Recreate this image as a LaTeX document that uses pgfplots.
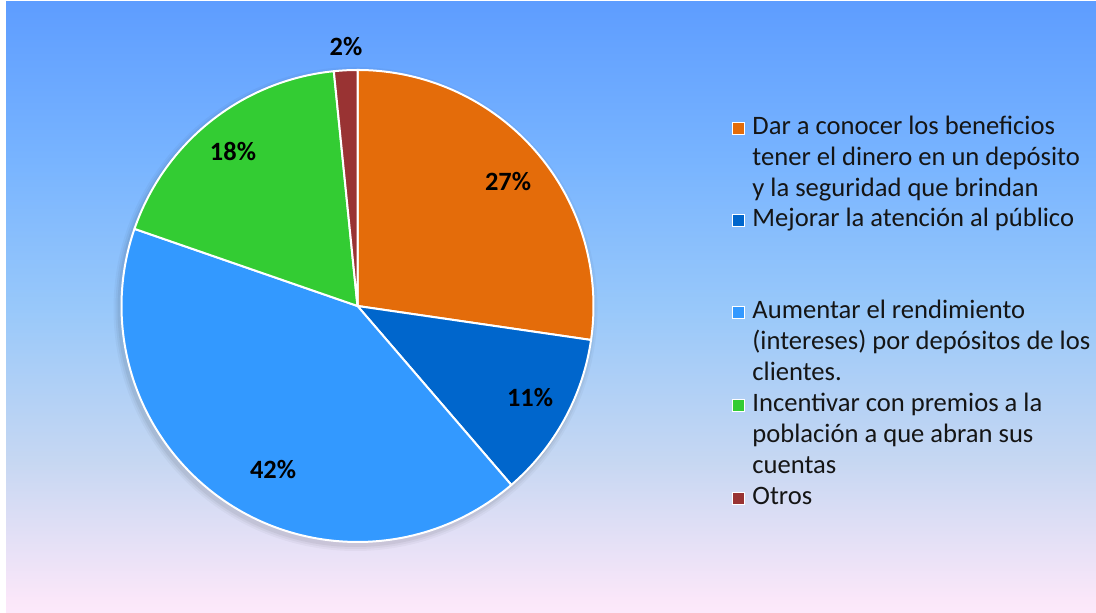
\documentclass[border=0pt]{standalone}
\usepackage{pgfplots}
\pgfplotsset{compat=1.18}
\usepackage{pgfplotstable}
\usepackage{fontspec}
\setmainfont{Carlito}
\definecolor{cOrange}{HTML}{E46C0A}
\definecolor{cDarkBlue}{HTML}{0066CC}
\definecolor{cLightBlue}{HTML}{3399FF}
\definecolor{cGreen}{HTML}{33CC33}
\definecolor{cRed}{HTML}{993333}
\definecolor{bg0}{HTML}{FCE9FA}
\definecolor{bg1}{HTML}{FBE7F9}
\definecolor{bg2}{HTML}{C6D7F2}
\definecolor{bg3}{HTML}{98C8FA}
\definecolor{bg4}{HTML}{78B4FF}
\definecolor{bg5}{HTML}{5E9DFF}
\definecolor{txt}{HTML}{151515}
\pgfdeclareverticalshading{bgshade}{100bp}{color(0bp)=(bg0); color(25bp)=(bg0); color(26bp)=(bg1); color(37.5bp)=(bg2); color(50bp)=(bg3); color(62bp)=(bg4); color(75bp)=(bg5); color(100bp)=(bg5)}

% slice values (percent), clockwise from 12 o'clock
\pgfplotstableread{
value color
27.3 cOrange
11.4 cDarkBlue
41.6 cLightBlue
18.1 cGreen
1.6 cRed
}\piedata

\begin{document}
\begin{tikzpicture}
\begin{axis}[
  name=pie,
  x=0.5pt, y=0.5pt,
  xmin=0, xmax=1096, ymin=0, ymax=613,
  hide axis, clip=false,
]
% background
\fill[shading=bgshade] (axis cs:6,0) rectangle (axis cs:1096,611);
\pgfplotsextra{
  \def\cx{357.5}\def\cy{307}\def\R{236}
  % soft shadow
  \foreach \k/\op in {6/0.03,4/0.04,2/0.05}{
    \fill[black, opacity=\op] (axis cs:{\cx-2},{\cy-3}) circle[radius={(236+\k)*0.5pt}];
  }
  \gdef\acur{90}
  \pgfplotsforeachungrouped \i in {0,...,4}{
    \pgfplotstablegetelem{\i}{value}\of\piedata
    \let\v\pgfplotsretval
    \pgfplotstablegetelem{\i}{color}\of\piedata
    \let\c\pgfplotsretval
    \pgfmathsetmacro\anext{\acur-3.6*\v}
    \fill[\c, draw=white, line width=1pt, line join=round]
      (axis cs:\cx,\cy) -- (axis cs:{\cx+\R*cos(\acur)},{\cy+\R*sin(\acur)})
      arc[start angle=\acur, end angle=\anext, radius=118pt] -- cycle;
    \xdef\acur{\anext}
  }
  % legend keys
  \foreach \yy/\cc in {485/cOrange,393/cDarkBlue,301/cLightBlue,208/cGreen,115/cRed}{
    \filldraw[fill=\cc, draw=white, line width=0.4pt] (axis cs:732,\yy-6) rectangle (axis cs:744,\yy+6);
  }
}
% percentage labels
\begin{scope}[every node/.style={font=\fontsize{13.2}{14}\selectfont\bfseries, text=black}]
\node at (axis cs:508,431) {27\%};
\node at (axis cs:530,215) {11\%};
\node at (axis cs:273,143) {42\%};
\node at (axis cs:233,461) {18\%};
\node at (axis cs:346,566) {2\%};
\end{scope}
% legend
\begin{scope}[every node/.style={font=\fontsize{13.3}{15.5}\selectfont, text=txt, anchor=west, inner sep=0pt, text height=0.7em, text depth=0.2em}]
\node at (axis cs:752,483) {Dar a conocer los beneficios};
\node at (axis cs:752,452) {tener el dinero en un depósito};
\node at (axis cs:752,421) {y la seguridad que brindan};
\node at (axis cs:752,391) {Mejorar la atención al público};
\node at (axis cs:752,299) {Aumentar el rendimiento};
\node at (axis cs:752,268) {(intereses) por depósitos de los};
\node at (axis cs:752,237) {clientes.};
\node at (axis cs:752,206) {Incentivar con premios a la};
\node at (axis cs:752,175) {población a que abran sus};
\node at (axis cs:752,144) {cuentas};
\node at (axis cs:752,113) {Otros};
\end{scope}
\end{axis}
\pgfresetboundingbox
\path[use as bounding box] (pie.south west) rectangle (pie.north east);
\end{tikzpicture}
\end{document}
